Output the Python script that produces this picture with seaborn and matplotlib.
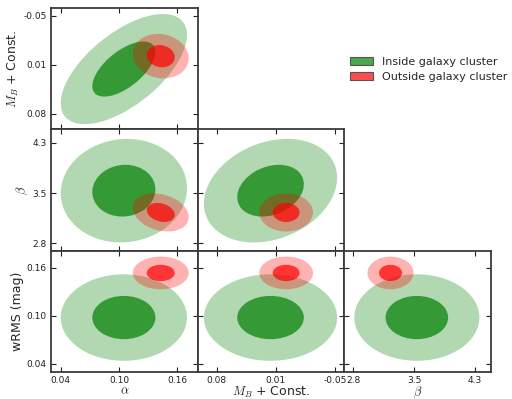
# plot.py - corner plot of SN parameter contours, inside vs outside galaxy clusters

import numpy as np
import matplotlib
matplotlib.use('Agg')
import matplotlib.pyplot as plt
import seaborn as sns
from matplotlib.patches import Ellipse, Patch
from matplotlib.colors import to_rgba

# Parameters (order: alpha, M_B, beta, wRMS)
param_labels = [r'$\alpha$', r'$M_B$ + Const.', r'$\beta$', 'wRMS (mag)']

# Inside galaxy cluster
inside_mean = [0.105, 0.018, 3.585, 0.098]
inside_sigma = [0.0325, 0.0352, 0.386, 0.027]
inside_corr = [[1.0, -0.62, 0.05, 0.0],
               [-0.62, 1.0, -0.25, 0.0],
               [0.05, -0.25, 1.0, 0.0],
               [0.0, 0.0, 0.0, 1.0]]

# Outside galaxy cluster
outside_mean = [0.143, 0.0015, 3.26, 0.1537]
outside_sigma = [0.0144, 0.0142, 0.142, 0.0102]
outside_corr = [[1.0, 0.1, -0.25, 0.0],
                [0.1, 1.0, 0.0, 0.0],
                [-0.25, 0.0, 1.0, 0.0],
                [0.0, 0.0, 0.0, 1.0]]

# Axis ranges and ticks
axis_limits = [(0.03, 0.181), (0.095, -0.06), (2.69, 4.5), (0.03, 0.1815)]
tick_values = [[0.04, 0.10, 0.16], [0.075, 0.0125, -0.05], [2.8, 3.55, 4.3], [0.04, 0.10, 0.16]]
tick_labels = [['0.04', '0.10', '0.16'], ['0.08', '0.01', '-0.05'], ['2.8', '3.5', '4.3'], ['0.04', '0.10', '0.16']]

legend_labels = ['Inside galaxy cluster', 'Outside galaxy cluster']
colors = ['green', 'red']


def covariance(sigma, corr, i, j):
    s = np.array([sigma[i], sigma[j]])
    c = np.array([[1.0, corr[i][j]], [corr[j][i], 1.0]])
    return c * np.outer(s, s)


# Draw 1-sigma and 2-sigma ellipses for one pair of parameters
def draw_contours(ax, mean, sigma, corr, i, j, color):
    cov = covariance(sigma, corr, i, j)
    vals, vecs = np.linalg.eigh(cov)
    order = vals.argsort()[::-1]
    vals = vals[order]
    vecs = vecs[:, order]
    angle = np.degrees(np.arctan2(vecs[1, 0], vecs[0, 0]))
    for n, a in [(2, 0.3), (1, 0.7)]:
        w, h = 2 * n * np.sqrt(vals)
        ax.add_patch(Ellipse((mean[i], mean[j]), w, h, angle=angle,
                             facecolor=color, alpha=a, lw=0))


sns.set_theme(style='ticks')
plt.rcParams['font.family'] = ['DejaVu Sans']
plt.rcParams['mathtext.fontset'] = 'cm'

fig = plt.figure(figsize=(5.12, 3.99), dpi=100)
gs = fig.add_gridspec(3, 3, left=51 / 512, right=491 / 512,
                      top=1 - 8 / 399, bottom=1 - 372 / 399,
                      wspace=0, hspace=0)

for row in range(3):
    yp = row + 1
    for col in range(row + 1):
        xp = col
        ax = fig.add_subplot(gs[row, col])
        draw_contours(ax, inside_mean, inside_sigma, inside_corr, xp, yp, colors[0])
        draw_contours(ax, outside_mean, outside_sigma, outside_corr, xp, yp, colors[1])

        ax.set_xlim(axis_limits[xp])
        ax.set_ylim(axis_limits[yp])
        ax.set_xticks(tick_values[xp])
        ax.set_yticks(tick_values[yp])
        ax.tick_params(direction='in', top=True, right=True, length=3.5,
                       width=0.8, labelsize=6.5, pad=3, colors='#222222')
        for sp in ax.spines.values():
            sp.set_color('#3a3a3a')
            sp.set_linewidth(1.3)

        if col == 0:
            ax.set_yticklabels(tick_labels[yp])
            ax.set_ylabel(param_labels[yp], fontsize=9, labelpad=2)
        else:
            ax.set_yticklabels([])
        if row == 2:
            ax.set_xticklabels(tick_labels[xp])
            ax.set_xlabel(param_labels[xp], fontsize=9, labelpad=-0.5)
        else:
            ax.set_xticklabels([])

handles = [Patch(facecolor=to_rgba(c, 0.7), edgecolor='#555555', lw=0.8) for c in colors]
fig.legend(handles, legend_labels, loc='center left',
           bbox_to_anchor=(350 / 512, 1 - 69.5 / 399), frameon=False,
           fontsize=8, handlelength=2.1, borderpad=0, borderaxespad=0,
           labelspacing=0.45, handletextpad=0.8)

fig.savefig('out.png', dpi=100)
